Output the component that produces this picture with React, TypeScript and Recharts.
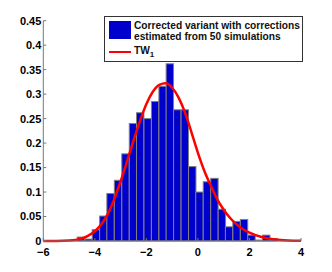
import { ComposedChart, Bar, Line, XAxis, YAxis } from 'recharts'

const W = 324
const H = 264
const PLOT_W = 257.7

// histogram bin centres and normalised heights
const BIN_W = 0.2875
const BIN_X = [-4.54, -4.25, -3.96, -3.67, -3.39, -3.1, -2.81, -2.52, -2.24, -1.95, -1.66, -1.37, -1.09, -0.8, -0.51, -0.22, 0.06, 0.35, 0.64, 0.93, 1.21, 1.5, 1.79, 2.08, 2.36, 2.65, 2.94]
const BIN_Y = [0.008, 0.004, 0.023, 0.051, 0.097, 0.124, 0.178, 0.24, 0.262, 0.25, 0.285, 0.316, 0.362, 0.268, 0.268, 0.152, 0.1, 0.121, 0.128, 0.065, 0.029, 0.04, 0.044, 0.012, 0.002, 0.012, 0.005]

// TW1 density
const TW_X = [-6, -5.5, -5, -4.75, -4.5, -4.25, -4, -3.75, -3.5, -3.25, -3, -2.75, -2.5, -2.25, -2, -1.75, -1.5, -1.25, -1, -0.75, -0.5, -0.25, 0, 0.25, 0.5, 0.75, 1, 1.25, 1.5, 1.75, 2, 2.5, 3, 3.5, 4]
const TW_Y = [0, 0.0001, 0.0008, 0.002, 0.005, 0.011, 0.02, 0.034, 0.055, 0.085, 0.122, 0.163, 0.205, 0.245, 0.28, 0.305, 0.319, 0.322, 0.313, 0.293, 0.262, 0.222, 0.18, 0.143, 0.113, 0.085, 0.064, 0.047, 0.034, 0.024, 0.017, 0.0075, 0.003, 0.001, 0.0003]

const X_TICKS = [-6, -4, -2, 0, 2, 4]
const Y_TICKS = [0, 0.05, 0.1, 0.15, 0.2, 0.25, 0.3, 0.35, 0.4, 0.45]

const LEGEND_1 = 'Corrected variant with corrections'
const LEGEND_2 = 'estimated from 50 simulations'

const hist = BIN_X.map((x, i) => ({ x, h: BIN_Y[i] }))
const curve = TW_X.map((x, i) => ({ x, tw: TW_Y[i] }))

const AXIS = '#777'
const FONT = '"Liberation Sans", Arial, sans-serif'
const tick = { fontSize: 11, fontWeight: 700, fill: '#000', fontFamily: FONT }
const fmtX = (v: number) => String(v).replace('-', '\u2212')

const barPx = (BIN_W * PLOT_W) / 10

// bars centred on the scaled bin centre, one bin wide
function HistBar(props: any) {
  const { x, y, width, height } = props
  if (height == null || height <= 0) return null
  const cx = x + width / 2
  return <rect x={cx - barPx / 2} y={y} width={barPx} height={height} fill="#0000cd" stroke="#808080" strokeWidth={1} />
}

export default function App() {
  return (
    <div style={{ position: 'relative', width: W, height: H, background: '#fff' }}>
      <ComposedChart width={W} height={H} data={hist} margin={{ top: 12.7, right: 31, left: 0.3, bottom: 6 }}>
        <XAxis xAxisId="b" dataKey="x" type="number" domain={[-6, 4]} ticks={X_TICKS} tickFormatter={fmtX}
          stroke={AXIS} tick={tick} tickSize={-3} tickMargin={10} height={25} />
        <XAxis xAxisId="t" orientation="top" dataKey="x" type="number" domain={[-6, 4]} ticks={X_TICKS}
          stroke={AXIS} tick={false} tickSize={-3} height={0} />
        <YAxis yAxisId="l" type="number" domain={[0, 0.45]} ticks={Y_TICKS} stroke={AXIS} tick={tick}
          tickSize={-3} tickMargin={5} width={35} />
        <YAxis yAxisId="r" orientation="right" type="number" domain={[0, 0.45]} ticks={Y_TICKS} stroke={AXIS}
          tick={false} tickSize={-3} width={0} />
        <Bar xAxisId="b" yAxisId="l" dataKey="h" fill="#0000cd" shape={HistBar} isAnimationActive={false} />
        <Line xAxisId="b" yAxisId="l" data={curve} dataKey="tw" type="monotone" stroke="#ff0000" strokeWidth={2.5}
          dot={false} activeDot={false} isAnimationActive={false} />
      </ComposedChart>
      <div style={{ position: 'absolute', left: 96, top: 8, width: 197, height: 44, background: '#fff',
        border: '1px solid #333', fontFamily: FONT, fontWeight: 700, fontSize: 10.2, color: '#111' }}>
        <div style={{ position: 'absolute', left: 4, top: 4, width: 22, height: 18, background: '#0000cd' }} />
        <div style={{ position: 'absolute', left: 29, top: 3, lineHeight: '11px', whiteSpace: 'nowrap' }}>
          {LEGEND_1}<br />{LEGEND_2}
        </div>
        <div style={{ position: 'absolute', left: 4, top: 33.5, width: 22, height: 2.5, background: '#ff0000' }} />
        <div style={{ position: 'absolute', left: 29, top: 27.5, lineHeight: '11px', whiteSpace: 'nowrap' }}>
          TW<sub style={{ fontSize: 8, verticalAlign: -3 }}>1</sub>
        </div>
      </div>
    </div>
  )
}
